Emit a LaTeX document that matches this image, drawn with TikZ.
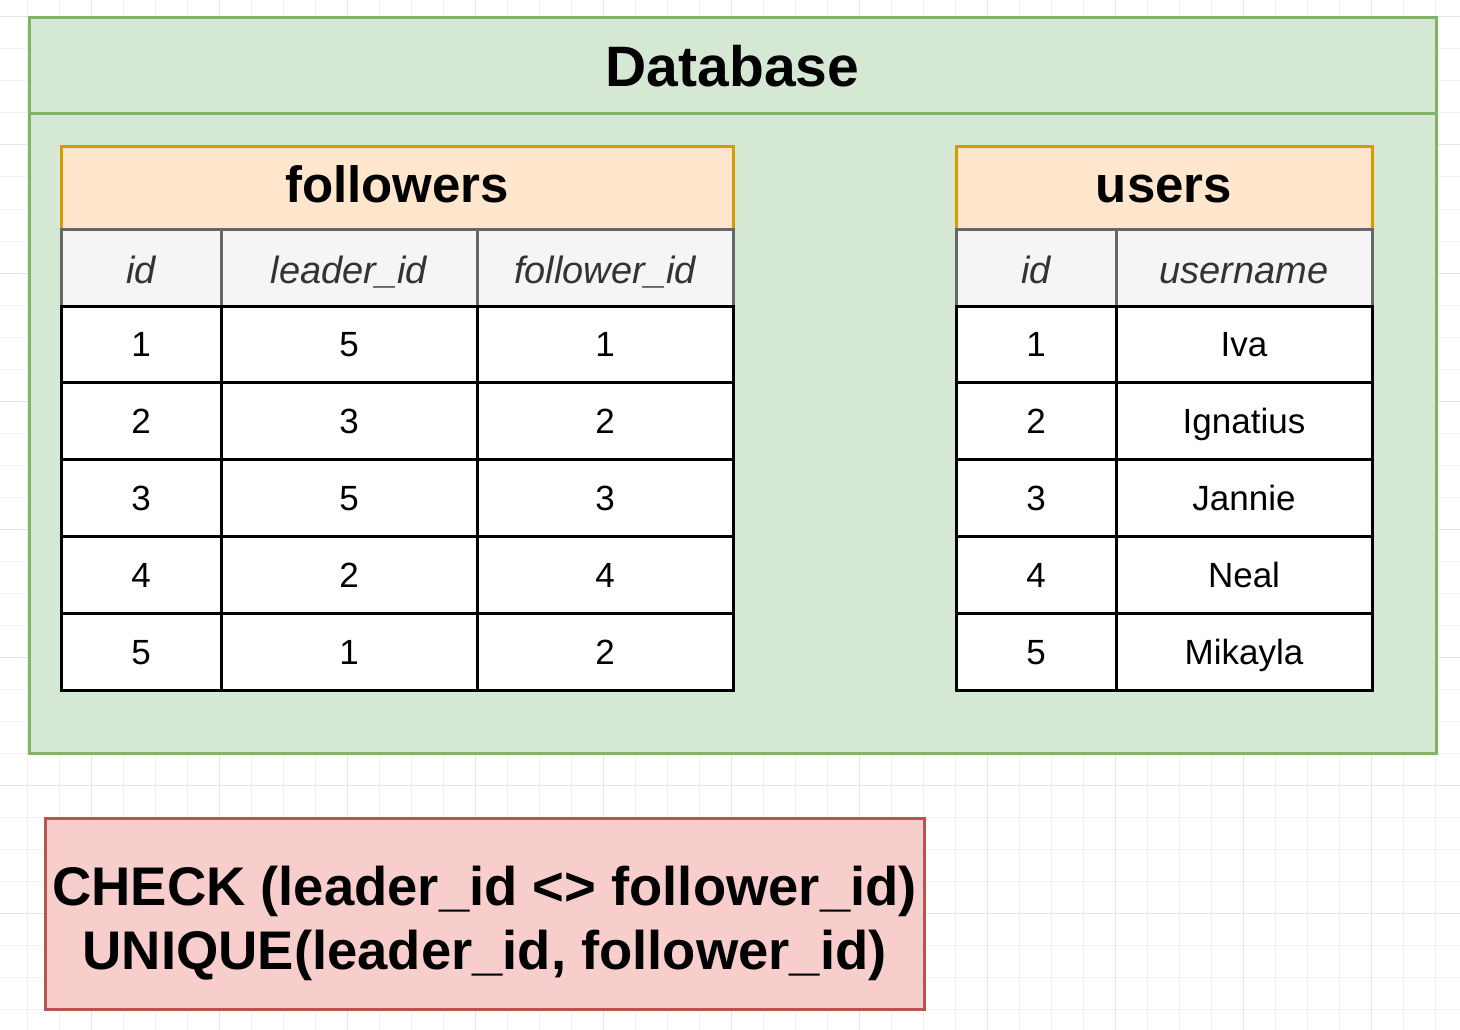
\documentclass[tikz,border=0pt]{standalone}
\usepackage{fontspec}
\setmainfont{Liberation Sans}
\definecolor{dbfill}{HTML}{D5E8D4}
\definecolor{dbline}{HTML}{82B366}
\definecolor{tblfill}{HTML}{FFE6CC}
\definecolor{tblline}{HTML}{D79B00}
\definecolor{hdrfill}{HTML}{F5F5F5}
\definecolor{hdrline}{HTML}{666666}
\definecolor{hdrtext}{HTML}{333333}
\definecolor{ckfill}{HTML}{F8CECC}
\definecolor{ckline}{HTML}{B85450}
\definecolor{gridminor}{HTML}{F1F1F1}
\definecolor{gridmajor}{HTML}{E6E6E6}
\tikzset{
  gridminorline/.style={draw=gridminor, line width=1pt},
  gridmajorline/.style={draw=gridmajor, line width=1pt},
  cellbase/.style={rectangle, inner sep=0pt, outer sep=0pt, line width=3pt, anchor=center},
  dbbox/.style={cellbase, draw=dbline, fill=dbfill},
  dbtitlebox/.style={cellbase, draw=dbline, fill=dbfill, font=\fontsize{57}{62}\selectfont\bfseries, text height=42pt, text depth=0pt},
  titlecell/.style={cellbase, draw=tblline, fill=tblfill, minimum height=82pt, font=\fontsize{51}{56}\selectfont\bfseries, text height=36pt, text depth=6pt},
  headcell/.style={cellbase, draw=hdrline, fill=hdrfill, text=hdrtext, minimum height=77pt, font=\fontsize{38}{44}\selectfont\itshape, text height=31pt, text depth=0pt},
  datacell/.style={cellbase, draw=black, fill=white, minimum height=76.8pt, font=\fontsize{35}{42}\selectfont, text height=25pt, text depth=0pt},
  checkbox/.style={cellbase, draw=ckline, fill=ckfill},
  checktext/.style={inner sep=0pt, anchor=base, font=\fontsize{54.4}{64}\selectfont\bfseries}
}
\begin{document}
\begin{tikzpicture}[x=1pt,y=-1pt]
\useasboundingbox (0,0) rectangle (1460,1030);
\fill[white] (0,0) rectangle (1460,1030);
% background grid
\foreach \k in {0,...,44} \draw[gridminorline] ({27+32*\k},0) -- ({27+32*\k},1030);
\foreach \k in {0,...,31} \draw[gridminorline] (0,{17+32*\k}) -- (1460,{17+32*\k});
\foreach \k in {0,...,10} \draw[gridmajorline] ({91+128*\k},0) -- ({91+128*\k},1030);
\foreach \k in {0,...,7} \draw[gridmajorline] (0,{17+128*\k}) -- (1460,{17+128*\k});

% database container
\node[dbbox, minimum width=1407pt, minimum height=735pt] (db) at (732.5,385.5) {};
\node[dbtitlebox, minimum width=1407pt, minimum height=96pt] (dbtitle) at (732.5,66) {Database};

% followers table
\node[titlecell, minimum width=672pt] (ftitle) at (397,188) {followers};
\node[headcell, minimum width=160pt] (fh1) at (141,267.5) {id};
\node[headcell, minimum width=256pt] (fh2) at (349,267.5) {leader\_id};
\node[headcell, minimum width=256pt] (fh3) at (605,267.5) {follower\_id};
\foreach \r/\a/\b/\c in {1/1/5/1, 2/2/3/2, 3/3/5/3, 4/4/2/4, 5/5/1/2} {
  \pgfmathsetmacro\yy{306+76.8*(\r-0.5)}
  \node[datacell, minimum width=160pt] (fa\r) at (141,\yy) {\a};
  \node[datacell, minimum width=256pt] (fb\r) at (349,\yy) {\b};
  \node[datacell, minimum width=256pt] (fc\r) at (605,\yy) {\c};
}

% users table
\node[titlecell, minimum width=416pt] (utitle) at (1164,188) {users};
\node[headcell, minimum width=160pt] (uh1) at (1036,267.5) {id};
\node[headcell, minimum width=256pt] (uh2) at (1244,267.5) {username};
\foreach \r/\a/\n in {1/1/Iva, 2/2/Ignatius, 3/3/Jannie, 4/4/Neal, 5/5/Mikayla} {
  \pgfmathsetmacro\yy{306+76.8*(\r-0.5)}
  \node[datacell, minimum width=160pt] (ua\r) at (1036,\yy) {\a};
  \node[datacell, minimum width=256pt] (ub\r) at (1244,\yy) {\n};
}

% constraints box
\node[checkbox, minimum width=879pt, minimum height=191pt] (check) at (484.5,913.5) {};
\node[checktext] (check1) at (484.5,905) {CHECK (leader\_id <> follower\_id)};
\node[checktext] (check2) at (484.5,969) {UNIQUE(leader\_id, follower\_id)};
\end{tikzpicture}
\end{document}
